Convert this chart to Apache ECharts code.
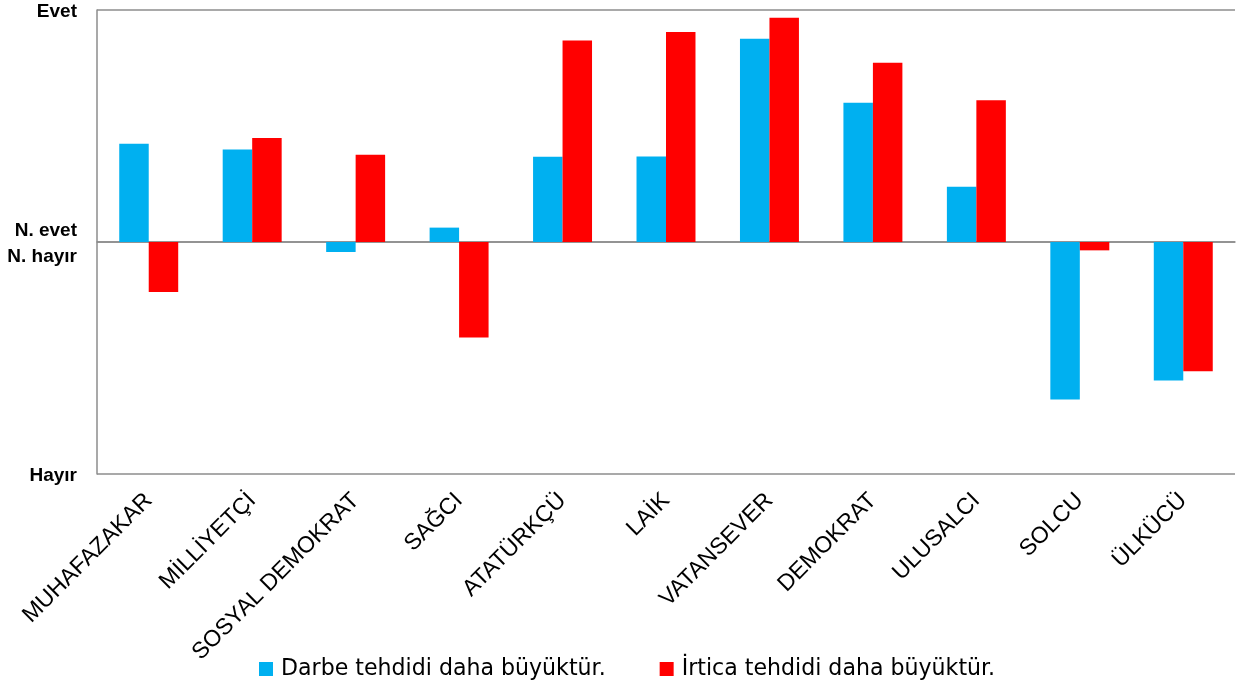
<!DOCTYPE html>
<html>
<head>
<meta charset="utf-8">
<script src="https://cdn.jsdelivr.net/npm/echarts@6/dist/echarts.min.js"></script>
<style>
html,body{margin:0;padding:0;background:#fff;}
#c{width:1236px;height:691px;}
</style>
</head>
<body>
<div id="c"></div>
<script>
const categories = ['MUHAFAZAKAR','MİLLİYETÇİ','SOSYAL DEMOKRAT','SAĞCI','ATATÜRKÇÜ','LAİK','VATANSEVER','DEMOKRAT','ULUSALCI','SOLCU','ÜLKÜCÜ'];
const seriesNames = ['Darbe tehdidi daha büyüktür.','İrtica tehdidi daha büyüktür.'];
const darbe = [0.423, 0.399, -0.043, 0.062, 0.367, 0.368, 0.876, 0.600, 0.238, -0.679, -0.597];
const irtica = [-0.215, 0.448, 0.376, -0.412, 0.868, 0.905, 0.967, 0.773, 0.611, -0.036, -0.557];
const yTickValues = [-1, 0, 1];
const yTickLabels = ['Hayır', 'N. evet\nN. hayır', 'Evet'];

const chart = echarts.init(document.getElementById('c'), null, {renderer:'canvas'});
const axisGrey = '#8c8c8c';
chart.setOption({
  animation: false,
  backgroundColor: '#ffffff',
  grid: {left: 97, right: 1, top: 10, bottom: 217, containLabel: false, outerBoundsMode: 'none'},
  legend: {
    data: seriesNames,
    left: 259, top: 656, padding: 0,
    itemWidth: 14, itemHeight: 14, itemGap: 54,
    icon: 'rect',
    textStyle: {fontFamily: 'DejaVu Sans', fontSize: 22.1, color: '#000', padding: [0,0,0,3], lineHeight: 26}
  },
  xAxis: {
    type: 'category',
    data: categories,
    axisLine: {show: true, onZero: true, lineStyle: {color: axisGrey, width: 1.5}},
    axisTick: {show: false},
    axisLabel: {
      rotate: 45, interval: 0, margin: 23,
      fontFamily: 'Liberation Sans, Arial, sans-serif', fontSize: 23, color: '#000'
    },
    position: 'bottom'
  },
  yAxis: {
    type: 'value',
    min: -1, max: 1, interval: 1,
    axisLine: {show: true, lineStyle: {color: axisGrey, width: 1.5}},
    axisTick: {show: false},
    splitLine: {show: true, lineStyle: {color: axisGrey, width: 1.5}},
    axisLabel: {
      margin: 20,
      fontFamily: 'Liberation Sans, Arial, sans-serif', fontSize: 19, fontWeight: 'bold', color: '#000', lineHeight: 26,
      rich: {
        t: {fontFamily: 'Liberation Sans, Arial, sans-serif', fontSize: 19, fontWeight: 'bold', color: '#000', lineHeight: 26, align: 'right'},
        s: {fontSize: 1, lineHeight: 4}
      },
      formatter: function (v) {
        const i = yTickValues.indexOf(v);
        if (i < 0) return '';
        return '{s| }\n' + yTickLabels[i].split('\n').map(function (l) { return '{t|' + l + '}'; }).join('\n');
      }
    }
  },
  series: [
    {name: seriesNames[0], type: 'bar', data: darbe, barGap: '0%', barCategoryGap: '43%',
     itemStyle: {color: '#00B0F0'}},
    {name: seriesNames[1], type: 'bar', data: irtica, barGap: '0%', barCategoryGap: '43%',
     itemStyle: {color: '#FF0000'}}
  ]
});
</script>
</body>
</html>
